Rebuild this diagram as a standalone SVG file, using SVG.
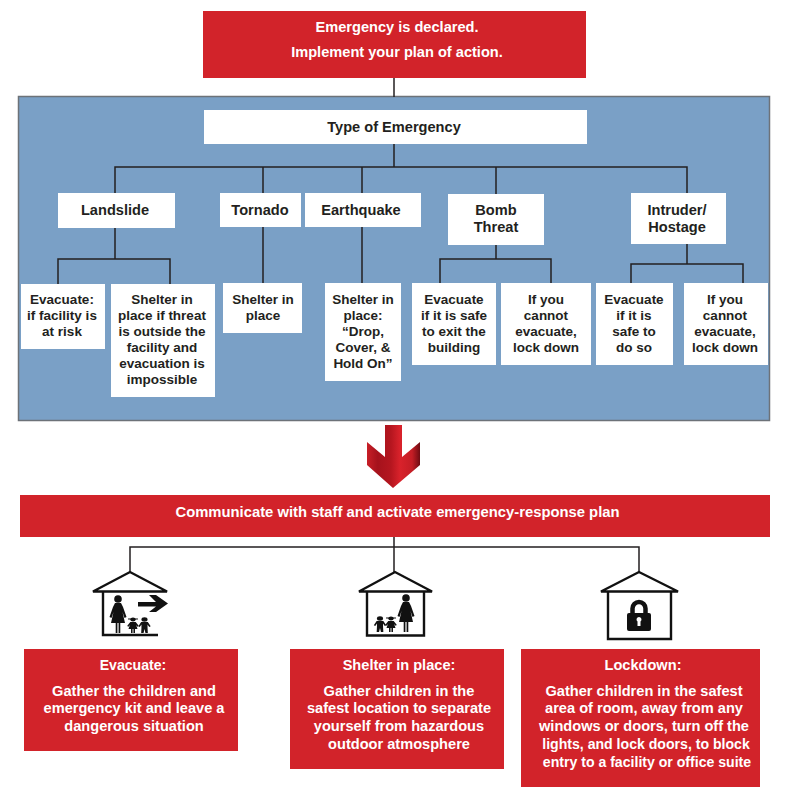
<svg xmlns="http://www.w3.org/2000/svg" width="788" height="800" viewBox="0 0 788 800">
<style>
text{font-family:"Liberation Sans",Arial,sans-serif;font-weight:700;font-size:13.5px;text-anchor:middle;fill:#231f20}
.r text{fill:#fff;font-size:14.6px}
.big text{font-size:14.6px}
.r text.w{font-size:14.8px}
.r text.n{font-size:14.1px}
.rb{fill:#d2232a}
.wb{fill:#fff}
.c{fill:none;stroke:#231f20;stroke-width:1.5}
.h{fill:none;stroke:#111;stroke-width:2.4}
.k{fill:#111}
</style>
<defs>
<linearGradient id="ag" x1="0" x2="1" y1="0" y2="0">
<stop offset="0" stop-color="#c81f27"/><stop offset=".2" stop-color="#a5121c"/><stop offset=".45" stop-color="#b5161f"/><stop offset=".62" stop-color="#d9222b"/><stop offset=".85" stop-color="#c41d25"/><stop offset="1" stop-color="#6e0b12"/>
</linearGradient>
<g id="woman"><circle cx="0" cy="0" r="3.800"/><path d="M-3 4H3L5 8L8.500 18L6.500 19L4.500 13L7 24H2.300V34H.6V24H-.6V34H-2.300V24H-7L-4.500 13L-6.500 19L-8.500 18L-5 8Z"/></g>
<g id="boy"><circle cx="0" cy="0" r="3.200"/><path d="M-3.500 3.500H3.500L6.500 10L5 11L3.200 7.500V12L3.500 20H1L0 14L-1 20H-3.500L-3.200 12V7.500L-5 11L-6.500 10Z"/></g>
<g id="girl"><circle cx="0" cy="0" r="3"/><path d="M-5.500-1.500H5.500V0H-5.500Z"/><path d="M-3 3.500H3L6.500 9.500L5 10.500L3.500 8L5 14H2.200V20H.5V14H-.5V20H-2.200V14H-5L-3.500 8L-5 10.500L-6.500 9.500Z"/></g>
</defs>
<rect width="788" height="800" fill="#fff"/>
<rect id="panel" x="18.500" y="96.500" width="751" height="324" fill="#7aa0c6" stroke="#6d7278" stroke-width="1.500"/>
<g id="connectors">
<path class="c" d="M394 78V97"/>
<path class="c" d="M394 144V167M115 193V167H687V193M263 167V196M362 167V193M496 167V194"/>
<path class="c" d="M115 228V259M58 284V259H170V284"/>
<path class="c" d="M263 227V283"/>
<path class="c" d="M362 227V283"/>
<path class="c" d="M496 245V259M440 283V259H551V283"/>
<path class="c" d="M687 244V264M631 283V264H743V283"/>
<path class="c" d="M394 537V547M130 572V547H639V572M394 547V572"/>
</g>
<g id="top" class="r"><rect class="rb" x="203" y="11" width="383" height="67"/><text x="397" y="32">Emergency is declared.</text><text x="397" y="57">Implement your plan of action.</text></g>
<g id="type" class="big"><rect class="wb" x="204" y="110" width="383" height="34"/><text x="394" y="132">Type of Emergency</text></g>
<g id="landslide" class="big"><rect class="wb" x="58" y="193" width="117" height="35"/><text x="115" y="215">Landslide</text></g>
<g id="tornado" class="big"><rect class="wb" x="220" y="193" width="81" height="34"/><text x="260" y="215">Tornado</text></g>
<g id="earthquake" class="big"><rect class="wb" x="305" y="193" width="116" height="34"/><text x="361" y="215">Earthquake</text></g>
<g id="bomb" class="big"><rect class="wb" x="448" y="194" width="96" height="51"/><text x="496" y="215">Bomb</text><text x="496" y="232">Threat</text></g>
<g id="intruder" class="big"><rect class="wb" x="631" y="193" width="95" height="51"/><text x="677" y="215">Intruder/</text><text x="677" y="232">Hostage</text></g>
<g id="l1"><rect class="wb" x="21" y="284" width="84" height="65"/><text x="62" y="304">Evacuate:</text><text x="62" y="320">if facility is</text><text x="62" y="336">at risk</text></g>
<g id="l2"><rect class="wb" x="111" y="284" width="104" height="113"/><text x="162" y="304">Shelter in</text><text x="162" y="320">place if threat</text><text x="162" y="336">is outside the</text><text x="162" y="352">facility and</text><text x="162" y="368">evacuation is</text><text x="162" y="384">impossible</text></g>
<g id="t1"><rect class="wb" x="223" y="283" width="79" height="50"/><text x="263" y="304">Shelter in</text><text x="263" y="320">place</text></g>
<g id="e1"><rect class="wb" x="325" y="283" width="76" height="98"/><text x="363" y="304">Shelter in</text><text x="363" y="320">place:</text><text x="363" y="336">“Drop,</text><text x="363" y="352">Cover, &amp;</text><text x="363" y="368">Hold On”</text></g>
<g id="b1"><rect class="wb" x="412" y="283" width="84" height="82"/><text x="454" y="304">Evacuate</text><text x="454" y="320">if it is safe</text><text x="454" y="336">to exit the</text><text x="454" y="352">building</text></g>
<g id="b2"><rect class="wb" x="501" y="283" width="90" height="82"/><text x="546" y="304">If you</text><text x="546" y="320">cannot</text><text x="546" y="336">evacuate,</text><text x="546" y="352">lock down</text></g>
<g id="i1"><rect class="wb" x="596" y="283" width="77" height="82"/><text x="634" y="304">Evacuate</text><text x="634" y="320">if it is</text><text x="634" y="336">safe to</text><text x="634" y="352">do so</text></g>
<g id="i2"><rect class="wb" x="684" y="283" width="84" height="82"/><text x="725" y="304">If you</text><text x="725" y="320">cannot</text><text x="725" y="336">evacuate,</text><text x="725" y="352">lock down</text></g>
<g id="arrow"><path fill="url(#ag)" d="M385 425H402V457L420 442V465L393 488L367 465V442L385 457Z"/></g>
<g id="communicate" class="r"><rect class="rb" x="20" y="495" width="750" height="42"/><text class="w" x="397.500" y="517">Communicate with staff and activate emergency-response plan</text></g>
<g id="icon-evacuate">
<path class="h" d="M93 591.500L130 572L167 591.500ZM103 592V635H158"/>
<use href="#woman" class="k" x="118" y="599"/>
<use href="#girl" class="k" transform="translate(133 619.500) scale(.9 .68)"/><use href="#boy" class="k" transform="translate(144.500 619.500) scale(.95 .68)"/>
<path class="k" d="M138 602H156L149 595H156L168 603.500L156 612H149L156 606.500H138Z"/>
</g>
<g id="icon-shelter">
<path class="h" d="M359 591.500L395 572L432 591.500ZM367 592V635.500H424V592"/>
<use href="#woman" class="k" x="406" y="598"/><use href="#girl" class="k" transform="translate(391 618.500) scale(.9 .68)"/><use href="#boy" class="k" transform="translate(380 618.500) scale(.95 .68)"/>
</g>
<g id="icon-lockdown">
<path class="h" d="M601 591.500L639 572L678 591.500ZM608 592V639H671V592"/>
<path fill="none" stroke="#111" stroke-width="4.500" d="M632.500 615V608.500A6.500 6.500 0 0 1 645.500 608.500V615"/>
<rect class="k" x="627" y="613" width="24" height="18" rx="2"/>
<path fill="#fff" d="M639 617a2.500 2.500 0 0 1 1.500 4.500V626H637.500V621.500A2.500 2.500 0 0 1 639 617Z"/>
</g>
<g id="evacuate" class="r"><rect class="rb" x="24" y="649" width="214" height="102"/><text class="n" x="133" y="670">Evacuate:</text><text x="134" y="696">Gather the children and</text><text x="134" y="713">emergency kit and leave a</text><text x="134" y="731">dangerous situation</text></g>
<g id="shelter" class="r"><rect class="rb" x="290" y="649" width="214" height="120"/><text x="399" y="670">Shelter in place:</text><text x="399" y="696">Gather children in the</text><text x="399" y="713">safest location to separate</text><text x="399" y="731">yourself from hazardous</text><text x="399" y="749">outdoor atmosphere</text></g>
<g id="lockdown" class="r"><rect class="rb" x="521" y="649" width="239" height="138"/><text x="643" y="670">Lockdown:</text><text x="644" y="696">Gather children in the safest</text><text x="644" y="713">area of room, away from any</text><text x="644" y="731">windows or doors, turn off the</text><text class="n" x="646" y="749">lights, and lock doors, to block</text><text class="n" x="647" y="767">entry to a facility or office suite</text></g>
</svg>
